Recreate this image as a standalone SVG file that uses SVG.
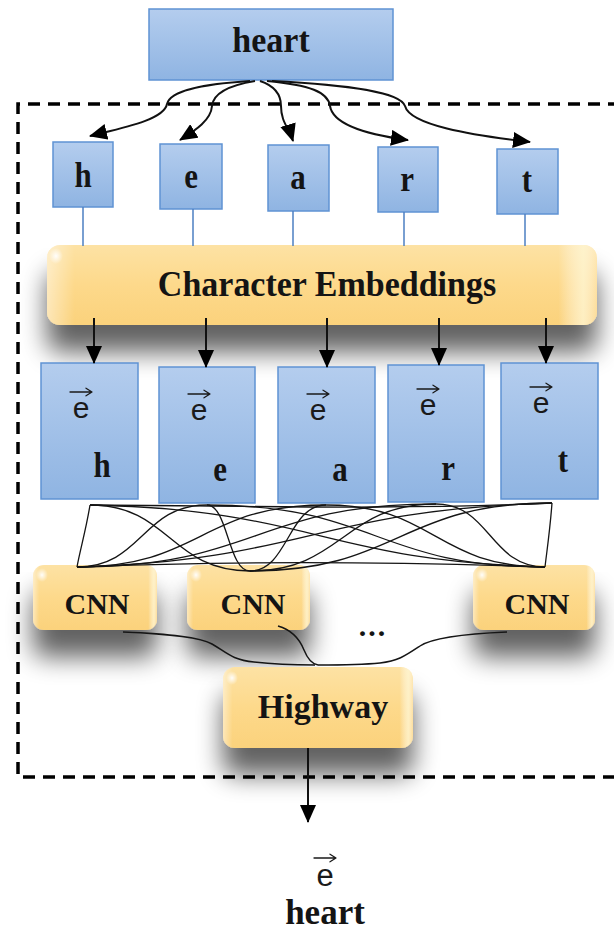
<svg xmlns="http://www.w3.org/2000/svg" width="614" height="931" viewBox="0 0 614 931">
  <style>
    .blue { fill: url(#blueFill); stroke: #5f93d3; stroke-width: 1.5; }
    .orange { fill: url(#orangeFill); }
    .gloss { fill: url(#orangeEdge); }
    .lbl { font-family: "Liberation Serif", "Times New Roman", serif; font-weight: bold; fill: #141414; text-anchor: middle; }
    .vec { font-family: "Liberation Sans", Arial, sans-serif; fill: #1a1a1a; text-anchor: middle; }
    .over { fill: none; stroke: #1a1a1a; stroke-width: 1.3; stroke-linecap: round; stroke-linejoin: round; }
    .link { fill: none; stroke: #4d7fc2; stroke-width: 1.5; }
    .arrow { fill: none; stroke: #111; stroke-width: 2; marker-end: url(#head); }
    .tangle path { fill: none; stroke: #151515; stroke-width: 1.3; }
    .merge { fill: none; stroke: #151515; stroke-width: 1.5; }
    .frame { fill: none; stroke: #000; stroke-width: 3.5; stroke-dasharray: 12 8; }
  </style>
  <defs>
    <linearGradient id="blueFill" x1="0" y1="0" x2="0" y2="1">
      <stop offset="0" stop-color="#b4cdee"/>
      <stop offset="1" stop-color="#8fb4e2"/>
    </linearGradient>
    <linearGradient id="orangeFill" x1="0" y1="0" x2="0" y2="1">
      <stop offset="0" stop-color="#fde2a4"/>
      <stop offset="0.5" stop-color="#fdd98b"/>
      <stop offset="1" stop-color="#fbd27c"/>
    </linearGradient>
    <linearGradient id="orangeEdge" x1="0" y1="0" x2="1" y2="0">
      <stop offset="0" stop-color="#fff" stop-opacity="0.45"/>
      <stop offset="0.05" stop-color="#fff" stop-opacity="0"/>
      <stop offset="0.93" stop-color="#fff" stop-opacity="0"/>
      <stop offset="0.975" stop-color="#fff8d8" stop-opacity="0.75"/>
      <stop offset="1" stop-color="#fff" stop-opacity="0.2"/>
    </linearGradient>
    <radialGradient id="spot">
      <stop offset="0" stop-color="#fff" stop-opacity="0.95"/>
      <stop offset="1" stop-color="#fff" stop-opacity="0"/>
    </radialGradient>
    <filter id="drop" x="-25%" y="-30%" width="150%" height="240%">
      <feGaussianBlur in="SourceAlpha" stdDeviation="13"/>
      <feOffset dy="27"/>
      <feComponentTransfer><feFuncA type="linear" slope="0.62"/></feComponentTransfer>
      <feMerge><feMergeNode/><feMergeNode in="SourceGraphic"/></feMerge>
    </filter>
    <marker id="head" viewBox="0 0 18 16" refX="17" refY="8" markerWidth="18" markerHeight="16" markerUnits="userSpaceOnUse" orient="auto">
      <path d="M0,0 L18,8 L0,16 Z" fill="#000"/>
    </marker>
    <!-- vector accent drawn over each "e" -->
    <path id="vecMark" class="over" d="M-11,0 H10.5 M5,-3.8 L11,0 L5,3.8"/>
  </defs>

  <rect width="614" height="931" fill="#fff"/>

  <!-- orange processing blocks (drawn first so their shadows sit underneath) -->
  <g id="embeddings">
    <g filter="url(#drop)"><rect class="orange" x="47" y="245" width="550" height="80" rx="13"/></g>
    <rect class="gloss" x="47" y="245" width="550" height="80" rx="13"/>
    <ellipse cx="56" cy="256" rx="7" ry="8" fill="url(#spot)"/>
    <text class="lbl" font-size="34" transform="translate(327,296) scale(1,1.04)">Character Embeddings</text>
  </g>
  <g id="cnn1">
    <g filter="url(#drop)"><rect class="orange" x="33" y="565" width="124" height="65" rx="11"/></g>
    <rect class="gloss" x="33" y="565" width="124" height="65" rx="11"/>
    <ellipse cx="42" cy="575" rx="6" ry="7" fill="url(#spot)"/>
    <text class="lbl" x="97" y="614" font-size="30">CNN</text>
  </g>
  <g id="cnn2">
    <g filter="url(#drop)"><rect class="orange" x="187" y="565" width="123" height="65" rx="11"/></g>
    <rect class="gloss" x="187" y="565" width="123" height="65" rx="11"/>
    <ellipse cx="196" cy="575" rx="6" ry="7" fill="url(#spot)"/>
    <text class="lbl" x="253" y="614" font-size="30">CNN</text>
  </g>
  <g id="cnn3">
    <g filter="url(#drop)"><rect class="orange" x="473" y="565" width="122" height="65" rx="11"/></g>
    <rect class="gloss" x="473" y="565" width="122" height="65" rx="11"/>
    <ellipse cx="482" cy="575" rx="6" ry="7" fill="url(#spot)"/>
    <text class="lbl" x="537" y="614" font-size="30">CNN</text>
  </g>
  <g id="ellipsis">
    <text class="lbl" x="373" y="636" font-size="30" letter-spacing="2">...</text>
  </g>
  <g id="highway">
    <g filter="url(#drop)"><rect class="orange" x="223" y="667" width="190" height="81" rx="12"/></g>
    <rect class="gloss" x="223" y="667" width="190" height="81" rx="12"/>
    <ellipse cx="232" cy="678" rx="6" ry="7" fill="url(#spot)"/>
    <text class="lbl" x="323" y="718" font-size="34">Highway</text>
  </g>

  <!-- input word -->
  <g id="word">
    <rect class="blue" x="149" y="9" width="244" height="71"/>
    <text class="lbl" font-size="34" transform="translate(271,52) scale(1,1.08)">heart</text>
  </g>

  <!-- single characters -->
  <g id="char-h">
    <rect class="blue" x="53" y="142" width="60" height="65"/>
    <text class="lbl" font-size="31" transform="translate(83,187) scale(1,1.15)">h</text>
  </g>
  <g id="char-e">
    <rect class="blue" x="160" y="144" width="62" height="65"/>
    <text class="lbl" font-size="31" transform="translate(191,188) scale(1,1.15)">e</text>
  </g>
  <g id="char-a">
    <rect class="blue" x="268" y="145" width="61" height="66"/>
    <text class="lbl" font-size="31" transform="translate(298,189) scale(1,1.15)">a</text>
  </g>
  <g id="char-r">
    <rect class="blue" x="378" y="147" width="60" height="65"/>
    <text class="lbl" font-size="31" transform="translate(407,191) scale(1,1.15)">r</text>
  </g>
  <g id="char-t">
    <rect class="blue" x="497" y="149" width="61" height="65"/>
    <text class="lbl" font-size="31" transform="translate(527,192) scale(1,1.15)">t</text>
  </g>

  <!-- character vectors -->
  <g id="vec-h">
    <rect class="blue" x="41" y="363" width="97" height="136"/>
    <use href="#vecMark" x="81" y="392"/>
    <text class="vec" font-size="30" x="81" y="418">e</text>
    <text class="lbl" font-size="31" transform="translate(102,477) scale(1,1.15)">h</text>
  </g>
  <g id="vec-e">
    <rect class="blue" x="159" y="367" width="96" height="136"/>
    <use href="#vecMark" x="199" y="394"/>
    <text class="vec" font-size="30" x="199" y="420">e</text>
    <text class="lbl" font-size="31" transform="translate(220,481) scale(1,1.15)">e</text>
  </g>
  <g id="vec-a">
    <rect class="blue" x="278" y="367" width="97" height="136"/>
    <use href="#vecMark" x="318" y="394"/>
    <text class="vec" font-size="30" x="318" y="420">e</text>
    <text class="lbl" font-size="31" transform="translate(340,481) scale(1,1.15)">a</text>
  </g>
  <g id="vec-r">
    <rect class="blue" x="388" y="365" width="96" height="137"/>
    <use href="#vecMark" x="428" y="389"/>
    <text class="vec" font-size="30" x="428" y="415">e</text>
    <text class="lbl" font-size="31" transform="translate(448,480) scale(1,1.15)">r</text>
  </g>
  <g id="vec-t">
    <rect class="blue" x="501" y="363" width="97" height="136"/>
    <use href="#vecMark" x="541" y="387"/>
    <text class="vec" font-size="30" x="541" y="413">e</text>
    <text class="lbl" font-size="31" transform="translate(563,472) scale(1,1.15)">t</text>
  </g>

  <!-- output vector -->
  <g id="output">
    <use href="#vecMark" x="325" y="858"/>
    <text class="vec" font-size="31" x="325" y="886">e</text>
    <text class="lbl" x="325" y="924" font-size="35">heart</text>
  </g>

  <!-- boundary of the character-level encoder -->
  <g id="encoder-frame">
    <path class="frame" d="M620,104 H18 V777 H620"/>
  </g>

  <g id="connectors">
    <!-- word split into characters -->
    <path class="arrow" d="M250,81 C205,84 170,90 167,104 C164,120 122,128 90,136"/>
    <path class="arrow" d="M255,81 C225,86 213,95 212,106 C211,120 196,130 180,140"/>
    <path class="arrow" d="M260,81 C275,86 281,95 281,106 C281,122 289,128 293,141"/>
    <path class="arrow" d="M267,81 C310,85 328,92 330,106 C333,125 370,135 408,140"/>
    <path class="arrow" d="M272,81 C350,85 400,92 405,106 C410,125 470,135 530,142"/>

    <!-- characters into the embedding table -->
    <path class="link" d="M83,207 V246"/>
    <path class="link" d="M193,209 V246"/>
    <path class="link" d="M293,211 V246"/>
    <path class="link" d="M404,212 V246"/>
    <path class="link" d="M525,214 V246"/>

    <!-- embedding lookups -->
    <path class="arrow" d="M94,318 V363"/>
    <path class="arrow" d="M206,318 V367"/>
    <path class="arrow" d="M327,318 V367"/>
    <path class="arrow" d="M439,318 V365"/>
    <path class="arrow" d="M546,318 V363"/>

    <!-- every character vector feeds every CNN filter -->
    <g class="tangle">
      <path d="M90,505 C86,530 80,550 77,567"/>
      <path d="M90,505 C170,505 170,571 250,571"/>
      <path d="M90,505 C317,510 320,560 545,567"/>
      <path d="M207,505 C142,505 142,567 77,567"/>
      <path d="M207,505 C228,505 228,571 250,571"/>
      <path d="M207,505 C376,505 376,567 545,567"/>
      <path d="M326,505 C201,505 201,567 77,567"/>
      <path d="M326,505 C288,505 288,571 250,571"/>
      <path d="M326,505 C435,505 435,567 545,567"/>
      <path d="M436,504 C256,504 256,567 77,567"/>
      <path d="M436,504 C343,504 343,571 250,571"/>
      <path d="M436,504 C490,504 490,567 545,567"/>
      <path d="M552,503 C313,510 310,560 77,567"/>
      <path d="M552,503 C399,503 399,571 250,571"/>
      <path d="M552,503 C550,530 547,550 545,567"/>
      <path d="M90,505 C250,506 400,510 552,503"/>
      <path d="M77,567 C250,560 400,562 545,567"/>
    </g>

    <!-- CNN outputs merged into the highway layer -->
    <path class="merge" d="M123,632 C170,634 200,637 212,644 C226,652 232,660 254,662 C280,665 300,665 315,665"/>
    <path class="merge" d="M278,626 C292,630 300,640 304,650 C308,660 312,664 318,665"/>
    <path class="merge" d="M507,632 C460,634 432,638 420,646 C405,656 398,661 380,663 C360,665 335,665 318,665"/>

    <!-- highway output -->
    <path class="arrow" d="M308,748 V822"/>
  </g>
</svg>
